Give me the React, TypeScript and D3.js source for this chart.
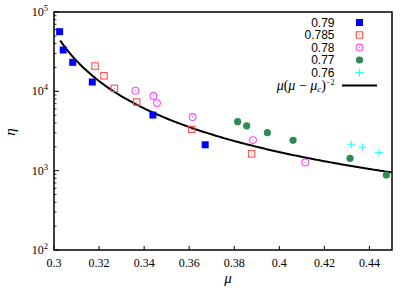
import { useRef, useEffect } from "react";
import * as d3 from "d3";

type Pt = [number, number];

const seriesLabels = ["0.79", "0.785", "0.78", "0.77", "0.76"];
const s079: Pt[] = [[0.3025, 56500], [0.3041, 33200], [0.3083, 23200], [0.317, 13100], [0.3439, 5020], [0.3671, 2120]];
const s0785: Pt[] = [[0.3182, 20800], [0.3222, 15700], [0.3268, 10900], [0.3367, 7330], [0.3611, 3320], [0.3877, 1630]];
const s078: Pt[] = [[0.3361, 10200], [0.3441, 8730], [0.3457, 7110], [0.3615, 4740], [0.3883, 2430], [0.4115, 1270]];
const s077: Pt[] = [[0.3815, 4140], [0.3855, 3680], [0.3947, 3010], [0.4061, 2410], [0.4314, 1430], [0.4475, 880]];
const s076: Pt[] = [[0.4319, 2150], [0.4368, 1970], [0.4442, 1700]];
const xTicks = [0.3, 0.32, 0.34, 0.36, 0.38, 0.4, 0.42, 0.44];
const yDecades = [2, 3, 4, 5];

// fit: A * mu * (mu - muC)^-2
const fitA = 59.2;
const fitMuC = 0.2825;
const fitRange: [number, number] = [0.3028, 0.45];

const colors = ["#0000ff", "#ff4d4d", "#ff44ff", "#2e8b57", "#22ffff"];

export default function App() {
  const ref = useRef<SVGSVGElement | null>(null);

  useEffect(() => {
    if (!ref.current) return;
    const svg = d3.select(ref.current);
    svg.selectAll("*").remove();

    const L = 54, T = 12, R = 392, B = 250;
    const x = d3.scaleLinear().domain([0.3, 0.45]).range([L, R]);
    const y = d3.scaleLog().domain([100, 1e5]).range([B, T]);

    const serif = "'Times New Roman', 'Liberation Serif', serif";
    const sans = "'Liberation Sans', Arial, sans-serif";

    // frame
    svg.append("rect").attr("x", L).attr("y", T).attr("width", R - L).attr("height", B - T)
      .attr("fill", "none").attr("stroke", "#000").attr("stroke-width", 1.5);

    // x ticks
    const xg = svg.append("g").attr("font-family", serif).attr("font-size", 12);
    xTicks.forEach(t => {
      xg.append("line").attr("x1", x(t)).attr("x2", x(t)).attr("y1", B).attr("y2", B - 4)
        .attr("stroke", "#000").attr("stroke-width", 1);
      xg.append("text").attr("x", x(t)).attr("y", B + 17).attr("text-anchor", "middle").text(String(t));
    });

    // y ticks (log)
    const yg = svg.append("g").attr("font-family", serif).attr("font-size", 12);
    yDecades.forEach(d => {
      const v = Math.pow(10, d);
      yg.append("line").attr("x1", L).attr("x2", L + 5).attr("y1", y(v)).attr("y2", y(v))
        .attr("stroke", "#000").attr("stroke-width", 1);
      const t = yg.append("text").attr("x", L - 6).attr("y", y(v) + 4).attr("text-anchor", "end");
      t.append("tspan").text("10");
      t.append("tspan").attr("dy", -5).attr("font-size", 8.5).text(String(d));
      if (d < 5) {
        for (let m = 2; m <= 9; m++) {
          yg.append("line").attr("x1", L).attr("x2", L + 2.5).attr("y1", y(m * v)).attr("y2", y(m * v))
            .attr("stroke", "#000").attr("stroke-width", 0.8);
        }
      }
    });

    // axis labels
    svg.append("text").attr("x", 228).attr("y", 283).attr("text-anchor", "middle")
      .attr("font-family", serif).attr("font-style", "italic").attr("font-size", 15).text("μ");
    svg.append("text").attr("transform", `translate(15,132) rotate(-90)`).attr("text-anchor", "middle")
      .attr("font-family", serif).attr("font-style", "italic").attr("font-size", 15).text("η");

    // fit curve
    const fitXs = d3.range(fitRange[0], fitRange[1] + 1e-9, 0.001);
    const line = d3.line<number>().x(m => x(m)).y(m => y(fitA * m / Math.pow(m - fitMuC, 2)));
    svg.append("path").datum(fitXs).attr("d", line).attr("fill", "none")
      .attr("stroke", "#000").attr("stroke-width", 2);

    // markers
    const drawMarker = (g: d3.Selection<SVGGElement, unknown, null, undefined>, i: number, cx: number, cy: number) => {
      const c = colors[i];
      if (i === 0) {
        g.append("rect").attr("x", cx - 3.5).attr("y", cy - 3.5).attr("width", 7).attr("height", 7).attr("fill", c);
      } else if (i === 1) {
        g.append("rect").attr("x", cx - 3.2).attr("y", cy - 3.2).attr("width", 6.4).attr("height", 6.4)
          .attr("fill", "none").attr("stroke", c).attr("stroke-width", 1.1);
        g.append("rect").attr("x", cx - 0.5).attr("y", cy - 0.5).attr("width", 1).attr("height", 1).attr("fill", c);
      } else if (i === 2) {
        g.append("circle").attr("cx", cx).attr("cy", cy).attr("r", 3.4)
          .attr("fill", "none").attr("stroke", c).attr("stroke-width", 1.1);
        g.append("rect").attr("x", cx - 0.5).attr("y", cy - 0.5).attr("width", 1).attr("height", 1).attr("fill", c);
      } else if (i === 3) {
        g.append("circle").attr("cx", cx).attr("cy", cy).attr("r", 3.6).attr("fill", c);
      } else {
        g.append("path").attr("d", `M${cx - 4},${cy}H${cx + 4}M${cx},${cy - 4}V${cy + 4}`)
          .attr("stroke", c).attr("stroke-width", 1.1);
      }
    };

    const allSeries = [s079, s0785, s078, s077, s076];
    const mg = svg.append("g");
    allSeries.forEach((s, i) => s.forEach(([mu, eta]) => drawMarker(mg, i, x(mu), y(eta))));

    // legend
    const lg = svg.append("g");
    seriesLabels.forEach((lab, i) => {
      const ly = 22.5 + i * 12.5;
      lg.append("text").attr("x", 334.5).attr("y", ly + 4.3).attr("text-anchor", "end")
        .attr("font-family", sans).attr("font-size", 12).text(lab);
      drawMarker(lg, i, 359.5, ly);
    });
    const fy = 85.5;
    const ft = lg.append("text").attr("x", 334.5).attr("y", fy + 4.2).attr("text-anchor", "end")
      .attr("font-family", serif).attr("font-size", 14);
    ft.append("tspan").attr("font-style", "italic").text("μ");
    ft.append("tspan").text("(");
    ft.append("tspan").attr("font-style", "italic").text("μ");
    ft.append("tspan").text(" − ");
    ft.append("tspan").attr("font-style", "italic").text("μ");
    ft.append("tspan").attr("font-style", "italic").attr("font-size", 9).attr("dy", 2).text("c");
    ft.append("tspan").attr("dy", -2).text(")");
    ft.append("tspan").attr("font-size", 8).attr("dy", -4.5).text("−2");
    lg.append("line").attr("x1", 342).attr("x2", 377).attr("y1", fy).attr("y2", fy)
      .attr("stroke", "#000").attr("stroke-width", 2);
  }, []);

  return (
    <svg ref={ref} width={415} height={291}
      style={{ position: "absolute", left: 0, top: 0, background: "#fff" }} />
  );
}
